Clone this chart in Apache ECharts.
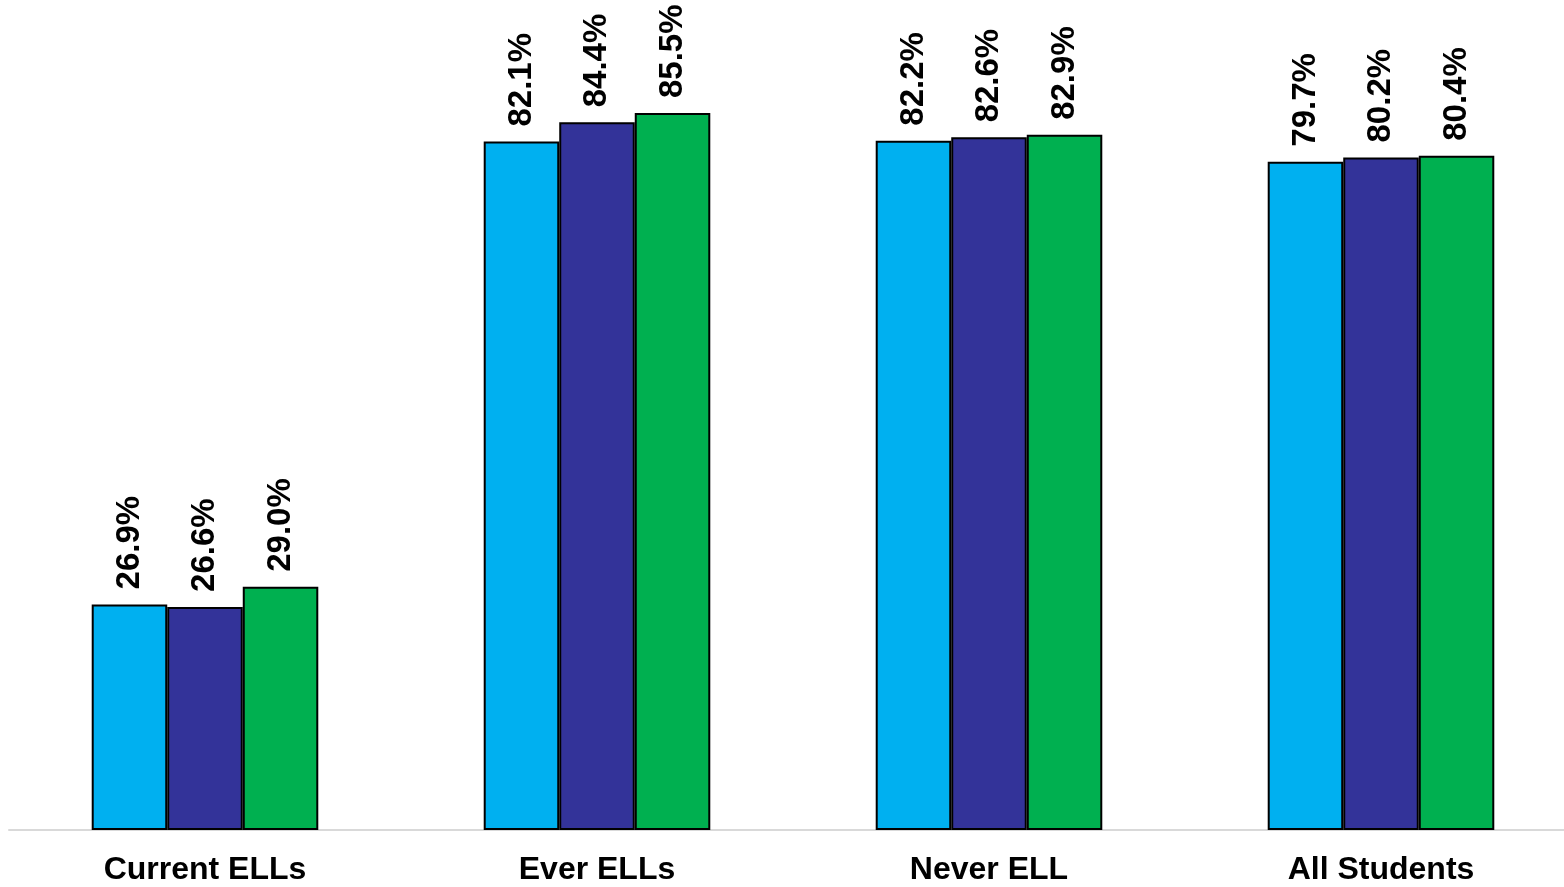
<!DOCTYPE html>
<html><head><meta charset="utf-8">
<script src="https://cdn.jsdelivr.net/npm/echarts@6/dist/echarts.min.js"></script>
<style>html,body{margin:0;padding:0;background:#fff;overflow:hidden;width:1564px;height:887px}#c{width:1600px;height:887px}</style>
</head><body><div id="c"></div>
<script>
const categories = ['Current ELLs', 'Ever ELLs', 'Never ELL', 'All Students'];
const seriesNames = ['Series 1', 'Series 2', 'Series 3'];
const series1 = [26.9, 82.1, 82.2, 79.7];
const series2 = [26.6, 84.4, 82.6, 80.2];
const series3 = [29.0, 85.5, 82.9, 80.4];
const colors = ['#00B0F0', '#333399', '#00B050'];

const font = "'Liberation Sans', Arial, sans-serif";
const chart = echarts.init(document.getElementById('c'));
const mk = (name, data, color) => ({
  name, type: 'bar', data,
  barGap: '0%', barCategoryGap: '42.2%',
  itemStyle: { color, borderColor: '#000', borderWidth: 2 },
  label: {
    show: true, position: 'top', rotate: 90, align: 'left', verticalAlign: 'middle',
    distance: 15, formatter: p => p.value.toFixed(1) + '%',
    fontFamily: font, fontWeight: 'bold', fontSize: 33, color: '#000'
  }
});
chart.setOption({
  animation: false,
  grid: { left: 9, width: 1568, top: 75.3, bottom: 57, containLabel: false },
  xAxis: {
    type: 'category', data: categories,
    axisLine: { lineStyle: { color: '#d9d9d9', width: 2 } },
    axisTick: { show: false },
    axisLabel: { fontFamily: font, fontWeight: 'bold', fontSize: 32, color: '#000', margin: 24 }
  },
  yAxis: { type: 'value', min: 0, max: 90, show: false, splitLine: { show: false } },
  series: [mk(seriesNames[0], series1, colors[0]), mk(seriesNames[1], series2, colors[1]), mk(seriesNames[2], series3, colors[2])]
});
</script></body></html>
